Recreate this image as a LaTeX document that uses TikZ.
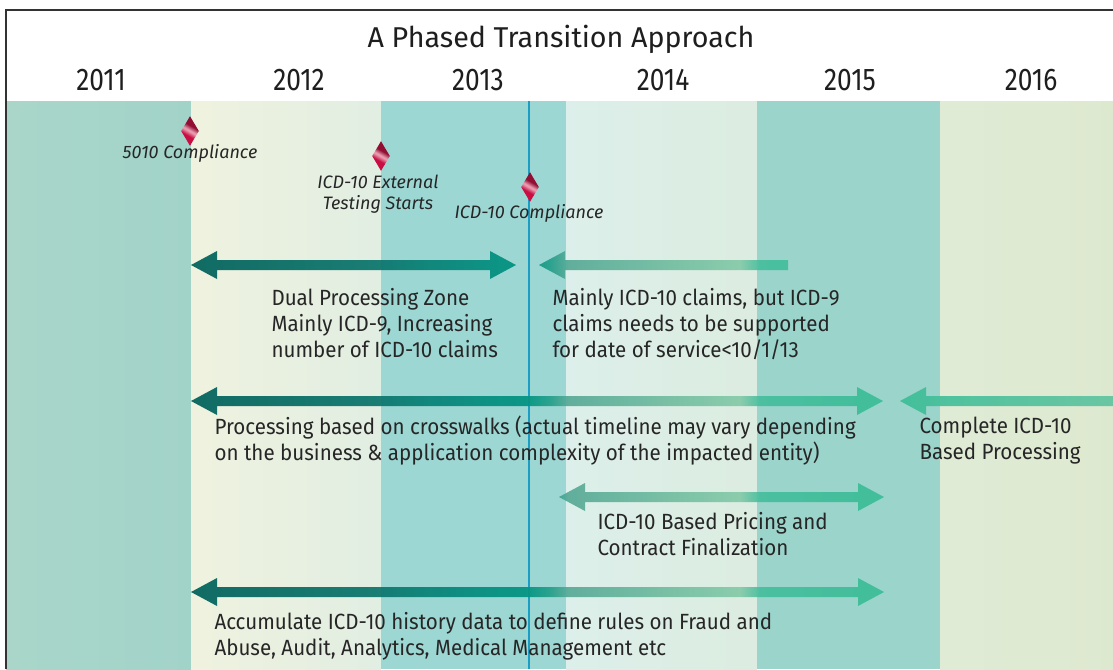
\documentclass[tikz,border=0pt]{standalone}
\usepackage{fontspec}
\setmainfont{Fira Sans}
\newfontfamily\narrowfont{Fira Sans}[FakeStretch=0.935]
\newfontfamily\yearfont{Fira Sans}[FakeStretch=0.84]
\usetikzlibrary{shapes.geometric,calc}

\definecolor{tlA}{RGB}{0,97,90}
\definecolor{tlB}{RGB}{11,118,109}
\definecolor{tlC}{RGB}{5,138,124}
\definecolor{tlD}{RGB}{0,147,129}
\definecolor{tlE}{RGB}{31,158,137}
\definecolor{tlF}{RGB}{88,170,151}
\definecolor{tlG}{RGB}{133,202,168}
\definecolor{tlH}{RGB}{69,190,157}
\definecolor{tlI}{RGB}{59,189,151}
\definecolor{tlJ}{RGB}{98,196,160}
% one colour run for all arrows, 25bp..75bp spans x=191..1113
\pgfdeclarehorizontalshading{timeline}{100bp}{color(0bp)=(tlA); color(25bp)=(tlA); color(35.3bp)=(tlB); color(40.13bp)=(tlC); color(43.11bp)=(tlD); color(44.36bp)=(tlE); color(45.44bp)=(tlF); color(54.77bp)=(tlG); color(55.86bp)=(tlH); color(62.58bp)=(tlI); color(75bp)=(tlJ); color(100bp)=(tlJ)}
% crimson diamond with a light streak across the middle
\definecolor{gemTop}{RGB}{200,14,66}
\definecolor{gemMid}{RGB}{234,158,178}
\definecolor{gemBot}{RGB}{146,14,50}
\pgfdeclarehorizontalshading{gem}{100bp}{color(0bp)=(gemTop); color(40bp)=(gemTop); color(49bp)=(gemMid); color(51bp)=(gemMid); color(60bp)=(gemBot); color(100bp)=(gemBot)}

\tikzset{every picture/.style={line width=0.75pt}}

\begin{document}
\begin{tikzpicture}[x=0.75pt,y=0.75pt,yscale=-1,xscale=1,
  note/.style={anchor=north west,inner sep=0pt,align=left,font=\narrowfont\fontsize{16.5}{19.5}\selectfont,text={rgb,255:red,38;green,38;blue,38}},
  mile/.style={inner sep=0pt,align=center,font=\fontsize{13.5}{15.75}\selectfont\itshape,text={rgb,255:red,38;green,38;blue,38}},
  year/.style={anchor=base,inner sep=0pt,font=\yearfont\fontsize{23.5}{23.5}\selectfont,text={rgb,255:red,30;green,30;blue,30}},
  milestone/.style={shape=diamond,inner sep=0pt,minimum width=13.5pt,minimum height=22.5pt,shade,shading=gem,shading angle=60},
  both heads/.style 2 args={insert path={(#1) -- ++(26,-14) -- ++(0,9) -- ($(#2)+(-26,-5)$) -- ++(0,-9) -- (#2) -- ++(-26,14) -- ++(0,-9) -- ($(#1)+(26,5)$) -- ++(0,9) -- cycle}},
  left head/.style 2 args={insert path={(#1) -- ++(26,-14) -- ++(0,9) -- ($(#2)+(0,-5)$) -- ++(0,10) -- ($(#1)+(26,5)$) -- ++(0,9) -- cycle}}
]
\useasboundingbox (0,0) rectangle (1113,669);
\fill [white] (0,0) rectangle (1113,669);

%Shape: Rectangle (year bands)
\shade [left color={rgb,255:red,169;green,214;blue,201},right color={rgb,255:red,162;green,211;blue,201}] (6,101) rectangle (191,669);
\shade [left color={rgb,255:red,239;green,242;blue,223},right color={rgb,255:red,225;green,238;blue,226}] (191,101) rectangle (381,669);
\fill [color={rgb,255:red,157;green,215;blue,211}] (381,101) rectangle (566,669);
\shade [left color={rgb,255:red,220;green,239;blue,234},right color={rgb,255:red,220;green,236;blue,224}] (566,101) rectangle (757,669);
\fill [color={rgb,255:red,154;green,212;blue,203}] (757,101) rectangle (940,669);
\shade [left color={rgb,255:red,224;green,235;blue,214},right color={rgb,255:red,221;green,233;blue,207}] (940,101) rectangle (1113,669);

%Straight Lines (frame)
\draw [color={rgb,255:red,51;green,51;blue,51},line width=1.1pt] (6,669) -- (6,10) -- (1113,10);
%Straight Lines (compliance date)
\draw [color={rgb,255:red,27;green,158;blue,196},line width=1.5pt] (529,101) -- (529,669);

% arrow ends
\coordinate (dualL) at (191,265);
\coordinate (dualR) at (516,265);
\coordinate (icdL) at (539,265);
\coordinate (icdR) at (788,265);
\coordinate (walkL) at (191,401);
\coordinate (walkR) at (883,401);
\coordinate (fullL) at (900,401);
\coordinate (fullR) at (1125,401);
\coordinate (priceL) at (559,497);
\coordinate (priceR) at (884,497);
\coordinate (histL) at (191,592);
\coordinate (histR) at (884,592);

%Arrows
\begin{scope}
\clip [both heads={dualL}{dualR},left head={icdL}{icdR},both heads={walkL}{walkR},left head={fullL}{fullR},both heads={priceL}{priceR},both heads={histL}{histR}];
\shade [shading=timeline,opacity=0.93] (191,240) rectangle (1113,610);
\end{scope}

% Text Node
\node [anchor=base,inner sep=0pt,font=\fontsize{21.5}{21.5}\selectfont,text={rgb,255:red,30;green,30;blue,30}] (title) at (561,47) {A Phased Transition Approach};
% Text Node
\node [year] (y2011) at (101,90) {2011};
\node [year] (y2012) at (299,90) {2012};
\node [year] (y2013) at (478,90) {2013};
\node [year] (y2014) at (663,90) {2014};
\node [year] (y2015) at (850,90) {2015};
\node [year] (y2016) at (1031,90) {2016};

% Milestones
\node [mile,anchor=base] (l5010) at (190,158) {5010 Compliance};
\node [mile,anchor=north] (ltest) at (378,174) {ICD-10 External\\Testing Starts};
\node [mile,anchor=base] (lcomp) at (529,218) {ICD-10 Compliance};
\node [milestone] (m5010) at (190,131) {};
\node [milestone] (mtest) at (381,156) {};
\node [milestone] (mcomp) at (530,187) {};

% Text Node
\node [note] (dual) at (271,288) {Dual Processing Zone\\Mainly ICD-9, Increasing\\number of ICD-10 claims};
% Text Node
\node [note] (mainly) at (552,288) {Mainly ICD-10 claims, but ICD-9\\claims needs to be supported\\for date of service<10/1/13};
% Text Node
\node [note] (walk) at (214,415) {Processing based on crosswalks (actual timeline may vary depending\\on the business \& application complexity of the impacted entity)};
% Text Node
\node [note] (full) at (919,416) {Complete ICD-10\\Based Processing};
% Text Node
\node [note] (price) at (597,512) {ICD-10 Based Pricing and\\Contract Finalization};
% Text Node
\node [note] (hist) at (214,612) {Accumulate ICD-10 history data to define rules on Fraud and\\Abuse, Audit, Analytics, Medical Management etc};

\end{tikzpicture}
\end{document}
